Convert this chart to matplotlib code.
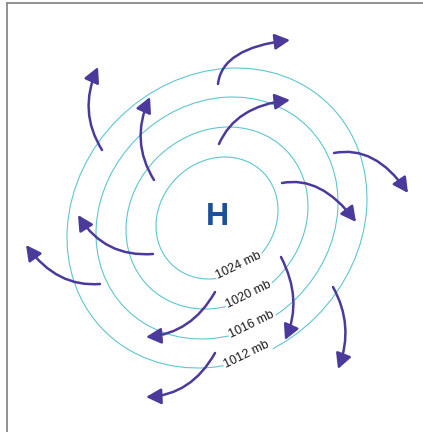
import matplotlib
matplotlib.use('Agg')
import matplotlib.pyplot as plt
import numpy as np
from matplotlib.patches import Ellipse, FancyArrowPatch
from matplotlib.path import Path

# isobars (pixel-like coordinates, y down)
levels = ['1024 mb', '1020 mb', '1016 mb', '1012 mb']
iso_center = (217, 218)
iso_extent = [61, 91, 121, 150]          # half extent in x / y
iso_stretch = 0.13                       # (a^2 - b^2) / (a^2 + b^2)
iso_angle = -45                          # tilt of major axis
label_x = [239, 249, 252, 247]
label_y = [266, 295, 325, 355]
label_rot = 26

# wind arrows: start, mid point on curve, end (arrow head)
arrow_start = [(218, 84), (102, 150), (154, 180), (219, 144), (334, 153), (282, 183),
               (153, 254), (100, 284), (215, 292), (215, 353), (281, 257), (333, 287)]
arrow_mid = [(238, 55), (89, 110), (141, 140), (245, 114), (373, 159), (320, 189),
             (110, 246), (60, 276), (186, 324), (186, 385), (293, 299), (345, 327)]
arrow_end = [(290, 40), (98, 67), (150, 97), (290, 100), (408, 193), (356, 222),
             (78, 215), (26, 245), (146, 337), (146, 397), (285, 340), (338, 369)]

iso_color = '#5fc6cf'
arrow_color = '#4b3a9c'
h_color = '#1d4f9f'

def main():
    fig = plt.figure(figsize=(4.23, 4.32), dpi=100)
    ax = fig.add_axes([6.5 / 423, 0, 416.5 / 423, 429.5 / 432])
    ax.set_xlim(6.5, 423)
    ax.set_ylim(432, 2.5)
    ax.set_xticks([])
    ax.set_yticks([])
    for s in ['right', 'bottom']:
        ax.spines[s].set_visible(False)
    for s in ['left', 'top']:
        ax.spines[s].set_color('#8a8a8a')
        ax.spines[s].set_linewidth(1.3)

    for e in iso_extent:
        a = e * np.sqrt(1 + iso_stretch)
        b = e * np.sqrt(1 - iso_stretch)
        ax.add_patch(Ellipse(iso_center, 2 * a, 2 * b, angle=iso_angle,
                             fill=False, edgecolor=iso_color, lw=0.8, zorder=1))

    for txt, x, y in zip(levels, label_x, label_y):
        ax.text(x, y, txt, rotation=label_rot, ha='center', va='center',
                fontsize=9, family='Liberation Sans', color='#1a1a1a', zorder=3,
                rotation_mode='anchor',
                bbox=dict(facecolor='white', edgecolor='none', pad=1.0))

    for p0, m, p2 in zip(arrow_start, arrow_mid, arrow_end):
        p0 = np.array(p0, float)
        p2 = np.array(p2, float)
        c = 2 * np.array(m, float) - (p0 + p2) / 2
        path = Path([p0, c, p2], [Path.MOVETO, Path.CURVE3, Path.CURVE3])
        arr = FancyArrowPatch(path=path, arrowstyle='-|>,head_length=0.65,head_width=0.34',
                              mutation_scale=14, color=arrow_color, lw=1.8,
                              shrinkA=0, shrinkB=0, zorder=4)
        ax.add_patch(arr)

    ax.text(217, 217, 'H', ha='center', va='center', fontsize=23, fontweight='bold',
            family='Liberation Sans', color=h_color, zorder=5)

    fig.savefig('out.png', dpi=100)


if __name__ == '__main__':
    main()
